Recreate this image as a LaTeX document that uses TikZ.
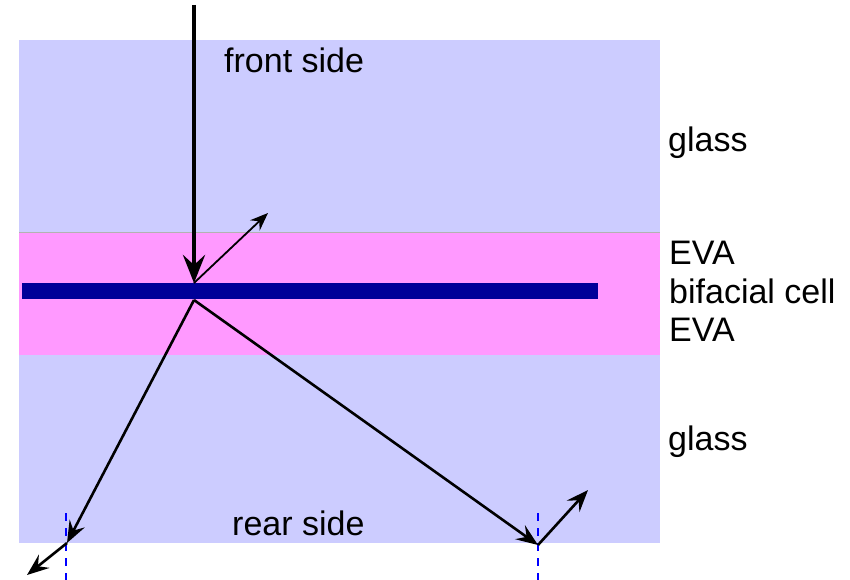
\documentclass[tikz,border=0pt]{standalone}
\usepackage{fontspec}
\setmainfont{Liberation Sans}
\usetikzlibrary{arrows.meta}
\definecolor{glassblue}{RGB}{204,204,255}
\definecolor{evapink}{RGB}{255,153,255}
\definecolor{cellblue}{RGB}{0,0,153}
\begin{document}
\begin{tikzpicture}[x=1pt,y=-1pt,
  lbl/.style={anchor=base west,inner sep=0pt,font=\fontsize{34}{40}\selectfont},
  ray/.style={line width=2.6pt,-{Stealth[length=22pt,width=17pt,inset=8pt]}},
  thinray/.style={line width=1.8pt,-{Stealth[length=18pt,width=14pt,inset=6pt]}},
  bigray/.style={line width=4.5pt,-{Stealth[length=28pt,width=22pt,inset=10pt]}},
  normal/.style={blue,line width=2pt,dash pattern=on 8pt off 7pt}]
\useasboundingbox (0,0) rectangle (850,580);
% layers of the module
\fill[glassblue] (19,40) rectangle (660,232);
\fill[evapink] (19,232) rectangle (660,355);
\fill[glassblue] (19,355) rectangle (660,543);
\draw[gray!60,line width=1pt] (19,232) -- (660,232);
\fill[cellblue] (22,283) rectangle (598,299);
% labels
\node[lbl] (front) at (224,73) {front side};
\node[lbl] (glassT) at (668,152) {glass};
\node[lbl] (evaT) at (669,264) {EVA};
\node[lbl] (cell) at (669,303) {bifacial cell};
\node[lbl] (evaB) at (669,341) {EVA};
\node[lbl] (glassB) at (668,450) {glass};
\node[lbl] (rear) at (232,535) {rear side};
% ray points
\coordinate (src) at (194,5);
\coordinate (hitF) at (194,283);
\coordinate (refl) at (268,213);
\coordinate (hitR) at (194,300);
\coordinate (exitL) at (67,543);
\coordinate (outL) at (27,575);
\coordinate (exitR) at (538,545);
\coordinate (backR) at (588,490);
% surface normals at the rear glass
\draw[normal] (66,513) -- (66,580);
\draw[normal] (538,513) -- (538,580);
% rays
\draw[bigray] (src) -- (hitF);
\draw[thinray] (hitF) -- (refl);
\draw[ray] (hitR) -- (exitL);
\draw[ray] (exitL) -- (outL);
\draw[ray] (hitR) -- (exitR);
\draw[ray] (exitR) -- (backR);
\end{tikzpicture}
\end{document}
